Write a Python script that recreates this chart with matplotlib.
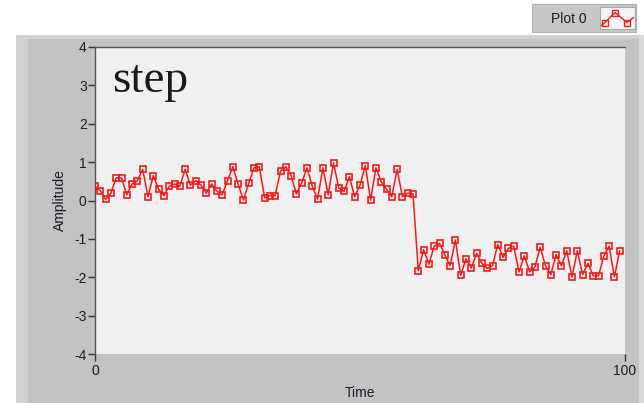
import matplotlib
matplotlib.use("Agg")
import matplotlib.pyplot as plt
from matplotlib.patches import Rectangle
from matplotlib.lines import Line2D
import numpy as np

# ---- data ----
time = list(range(100))
amplitude = [
    0.37, 0.26, 0.03, 0.19, 0.59, 0.59, 0.15, 0.43, 0.52, 0.81,
    0.10, 0.65, 0.29, 0.13, 0.37, 0.43, 0.37, 0.81, 0.40, 0.52,
    0.40, 0.19, 0.43, 0.24, 0.15, 0.52, 0.88, 0.43, 0.01, 0.45,
    0.85, 0.88, 0.07, 0.13, 0.13, 0.77, 0.88, 0.65, 0.17, 0.46,
    0.85, 0.37, 0.04, 0.85, 0.15, 0.98, 0.32, 0.24, 0.62, 0.10,
    0.40, 0.91, 0.01, 0.85, 0.49, 0.29, 0.10, 0.81, 0.10, 0.19,
    0.17, -1.83, -1.28, -1.66, -1.19, -1.12, -1.41, -1.70, -1.03, -1.95,
    -1.52, -1.76, -1.38, -1.64, -1.77, -1.70, -1.15, -1.48, -1.25, -1.19,
    -1.86, -1.44, -1.86, -1.73, -1.22, -1.70, -1.93, -1.41, -1.70, -1.31,
    -1.99, -1.31, -1.93, -1.64, -1.96, -1.96, -1.45, -1.19, -1.99, -1.31,
]
y_ticks = [-4, -3, -2, -1, 0, 1, 2, 3, 4]
x_ticks = [0, 100]
title = "step"
x_label = "Time"
y_label = "Amplitude"
legend_label = "Plot 0"

W, H = 644, 403
fig = plt.figure(figsize=(W / 100, H / 100), dpi=100)
fig.patch.set_facecolor("white")

def fx(px):
    return px / W

def fy(py):
    return 1 - py / H

# panel background
fig.add_artist(Rectangle((fx(16), 0), fx(644 - 16), fy(35), transform=fig.transFigure,
                         facecolor="#c3c3c3", edgecolor="none", zorder=0))
fig.add_artist(Rectangle((fx(16), 0), fx(12), fy(35), transform=fig.transFigure,
                         facecolor="#d2d2d2", edgecolor="none", zorder=0))
fig.add_artist(Rectangle((fx(16), fy(39)), fx(644 - 16), 4 / H, transform=fig.transFigure,
                         facecolor="#d2d2d2", edgecolor="none", zorder=0))
fig.add_artist(Rectangle((fx(639), 0), fx(5), fy(35), transform=fig.transFigure,
                         facecolor="#dadada", edgecolor="none", zorder=0))

ax = fig.add_axes([fx(95), fy(354), fx(625 - 95), (354 - 47) / H])
ax.set_facecolor("#f0f0f0")
ax.plot(time, amplitude, color="#f01c1c", lw=1.1, marker="s", markersize=5,
        markerfacecolor="none", markeredgecolor="#f01c1c", markeredgewidth=1.2, zorder=3)
ax.set_xlim(0, 100)
ax.set_ylim(-4, 4)
ax.set_yticks(y_ticks)
ax.set_yticklabels([str(v) for v in y_ticks])
ax.set_xticks(x_ticks)
ax.tick_params(axis="y", direction="out", length=5, width=1, color="#333333",
               labelsize=10, labelcolor="#1c1c28", pad=1)
ax.tick_params(axis="x", direction="out", length=5, width=1, color="#333333",
               labelsize=10, labelcolor="#1c1c28", pad=2)
for lab in ax.get_xticklabels() + ax.get_yticklabels():
    lab.set_fontfamily("Liberation Sans")
for s in ["right", "bottom"]:
    ax.spines[s].set_visible(False)
for s in ["left", "top"]:
    ax.spines[s].set_color("#555555")
    ax.spines[s].set_linewidth(1)

ax.set_xlabel(x_label, fontsize=10, family="Liberation Sans", color="#1c1c28", labelpad=6)
ax.set_ylabel(y_label, fontsize=10, family="Liberation Sans", color="#1c1c28", labelpad=5)

ax.text((112 - 95) / 530, 0.853, title, transform=ax.transAxes, fontsize=34,
        family="Liberation Serif", color="#1a1a1a", va="baseline", ha="left")

# legend
fig.add_artist(Rectangle((fx(532), fy(32)), fx(636 - 532), (32 - 4) / H, transform=fig.transFigure,
                         facecolor="#c8c8c8", edgecolor="#b0b0b0", lw=0.8, zorder=5))
fig.add_artist(Rectangle((fx(600), fy(29)), fx(35), 22 / H, transform=fig.transFigure,
                         facecolor="#f4f4f4", edgecolor="#a8a8a8", lw=0.8, zorder=6))
fig.text(fx(551), fy(19), legend_label, fontsize=10, family="Liberation Sans",
         color="#1c1c28", va="center", ha="left", zorder=7)
icon_x = [fx(v) for v in [601.5, 605, 615, 627, 633.5]]
icon_y = [fy(v) for v in [25.5, 22.5, 12.5, 22.5, 17.5]]
fig.add_artist(Line2D(icon_x, icon_y, transform=fig.transFigure, color="#f01c1c", lw=1,
                      zorder=8))
fig.add_artist(Line2D(icon_x[1:4], icon_y[1:4], transform=fig.transFigure, color="#f01c1c",
                      lw=0, marker="s", markersize=4, markerfacecolor="none",
                      markeredgecolor="#f01c1c", zorder=8))

fig.savefig("out.png", dpi=100)
